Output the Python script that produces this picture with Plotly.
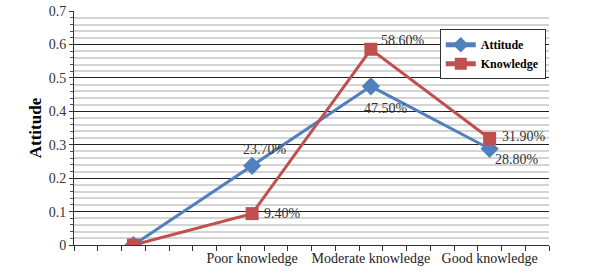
import plotly.graph_objects as go

categories = ["", "Poor knowledge", "Moderate knowledge", "Good knowledge"]
attitude = [0, 0.237, 0.475, 0.288]
knowledge = [0, 0.094, 0.586, 0.319]
attitude_labels = ["", "23.70%", "47.50%", "28.80%"]
knowledge_labels = ["", "9.40%", "58.60%", "31.90%"]

# label offsets (pixels) relative to each point
attitude_shift = [(0, 0), (13, 16), (15, -22), (27, -11)]
knowledge_shift = [(0, 0), (30, 0), (32, 9), (34, 2)]

xpos = list(range(len(categories)))
FONT = "Liberation Serif"
BLUE = "#4F81BD"
RED = "#C0504D"

fig = go.Figure()
fig.add_trace(go.Scatter(
    x=xpos, y=attitude, name="Attitude", mode="lines+markers",
    line=dict(color=BLUE, width=3),
    marker=dict(symbol="diamond", size=14, color=BLUE),
))
fig.add_trace(go.Scatter(
    x=xpos, y=knowledge, name="Knowledge", mode="lines+markers",
    line=dict(color=RED, width=3),
    marker=dict(symbol="square", size=13, color=RED),
))

for vals, labels, shifts in ((attitude, attitude_labels, attitude_shift),
                             (knowledge, knowledge_labels, knowledge_shift)):
    for x, y, t, (dx, dy) in zip(xpos, vals, labels, shifts):
        if t:
            fig.add_annotation(x=x, y=y, text=t, showarrow=False,
                               xshift=dx, yshift=dy,
                               font=dict(family=FONT, size=14, color="#333333"))

fig.update_layout(
    width=600, height=280,
    margin=dict(l=74, r=51, t=11, b=35, autoexpand=False),
    paper_bgcolor="white", plot_bgcolor="white",
    font=dict(family=FONT, size=14, color="#333333"),
    showlegend=True,
    legend=dict(
        x=0.77, y=0.922, xanchor="left", yanchor="top",
        bgcolor="white", bordercolor="#333333", borderwidth=1,
        font=dict(family=FONT, size=12, color="black", weight="bold"),
        tracegroupgap=0, itemsizing="constant", itemwidth=30,
    ),
)
fig.update_xaxes(
    range=[-0.5, 3.5], automargin=False,
    tickmode="array", tickvals=xpos[1:], ticktext=categories[1:],
    ticks="", showgrid=False, zeroline=False,
    showline=True, linecolor="#333333", linewidth=1,
    minor=dict(tickmode="linear", tick0=-0.5, dtick=0.2, ticks="outside",
               ticklen=5, tickcolor="#333333", showgrid=False),
    tickfont=dict(family=FONT, size=14, color="#222222"),
)
fig.update_yaxes(
    range=[0, 0.7005], tick0=0, dtick=0.1, automargin=False,
    showgrid=True, gridcolor="#222222", gridwidth=1,
    zeroline=False, showline=True, linecolor="#333333", linewidth=1,
    ticks="outside", ticklen=4, tickcolor="#333333",
    minor=dict(tick0=0, dtick=0.02, showgrid=True, gridcolor="#d4d4d4",
               gridwidth=2, ticks="outside", ticklen=3, tickcolor="#555555"),
    tickfont=dict(family=FONT, size=14, color="#333333"),
    title=dict(text="<b>Attitude</b>", font=dict(family=FONT, size=17, color="black"),
               standoff=2),
)

fig.write_html("out.html")
